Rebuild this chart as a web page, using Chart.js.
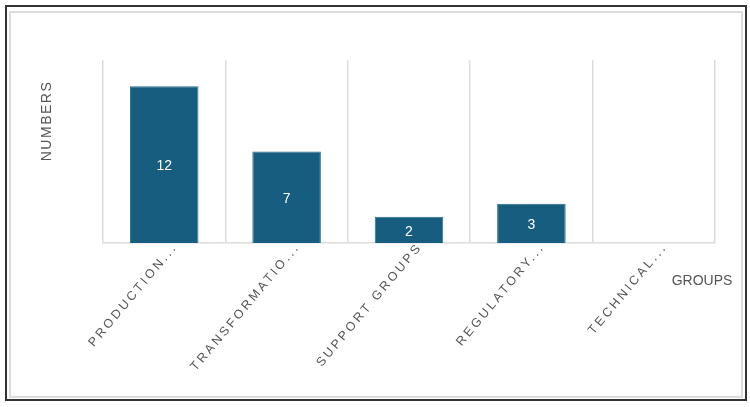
<!DOCTYPE html>
<html>
<head>
<meta charset="utf-8">
<script src="https://cdn.jsdelivr.net/npm/chart.js@4"></script>
<style>
    body { margin: 0; background: #fff; }
    #wrap { position: relative; width: 750px; height: 407px; }
    #outer { position: absolute; left: 5px; top: 5px; width: 738px; height: 392px; border: 2px solid #333; }
    #inner { position: absolute; left: 9px; top: 11px; width: 730px; height: 383px; border: 2px solid #dcdcdc; }
    canvas { position: absolute; left: 0; top: 0; }
</style>
</head>
<body>
<div id="wrap">
    <div id="outer"></div>
    <div id="inner"></div>
    <canvas id="grafico" width="750" height="407"></canvas>
</div>
<script>
const gruppi = ['PRODUCTION...', 'TRANSFORMATIO...', 'SUPPORT GROUPS', 'REGULATORY...', 'TECHNICAL...']
const numeri = [12, 7, 2, 3, 0]
const titoloX = 'GROUPS'
const titoloY = 'NUMBERS'
const grigio = '#555555'
const font = '"Liberation Sans", Arial, sans-serif'

// spaziatura lettere per le etichette ruotate
const spaziatura = {
    id: 'spaziatura',
    beforeDraw(chart) {
        chart.ctx.letterSpacing = '2.8px'
    },
    afterDraw(chart) {
        chart.ctx.letterSpacing = '0px'
    }
}

const testi = {
    id: 'testi',
    afterDatasetsDraw(chart) {
        const ctx = chart.ctx
        const area = chart.chartArea
        ctx.save()
        ctx.letterSpacing = '0px'
        ctx.fillStyle = '#ffffff'
        ctx.font = '14px ' + font
        ctx.textAlign = 'center'
        ctx.textBaseline = 'middle'
        chart.getDatasetMeta(0).data.forEach((bar, i) => {
            if (numeri[i] > 0) {
                ctx.fillText(numeri[i], bar.x, (bar.y + bar.base) / 2 + 2)
            }
        })
        ctx.fillStyle = grigio
        ctx.font = '14px ' + font
        ctx.textAlign = 'center'
        ctx.fillText(titoloX, area.right - 13, area.bottom + 38)
        ctx.translate(47, area.top + 61)
        ctx.rotate(-Math.PI / 2)
        ctx.letterSpacing = '1.5px'
        ctx.fillText(titoloY, 0, 0)
        ctx.restore()
    }
}

new Chart(
    document.getElementById('grafico'),
    {
        type: 'bar',
        data: {
            labels: gruppi,
            datasets: [
                {
                    label: titoloY,
                    data: numeri,
                    backgroundColor: '#165d7f',
                    borderColor: '#2a6e8e',
                    borderWidth: 1,
                    barPercentage: 0.56,
                    categoryPercentage: 1
                }
            ]
        },
        options: {
            responsive: false,
            animation: false,
            layout: {
                padding: { left: 103, top: 60, right: 35, bottom: 0 }
            },
            plugins: {
                legend: { display: false },
                tooltip: { enabled: false }
            },
            scales: {
                x: {
                    afterFit: s => { s.height = 164 },
                    grid: {
                        color: '#dcdcdc',
                        lineWidth: 1.5,
                        drawTicks: false,
                        offset: true
                    },
                    border: { color: '#dcdcdc', width: 1.5 },
                    ticks: {
                        minRotation: 50,
                        maxRotation: 50,
                        autoSkip: false,
                        padding: -3,
                        labelOffset: 11,
                        color: grigio,
                        font: { family: font, size: 12.5 }
                    }
                },
                y: {
                    display: false,
                    min: 0,
                    max: 14
                }
            }
        },
        plugins: [spaziatura, testi]
    }
)
</script>
</body>
</html>
